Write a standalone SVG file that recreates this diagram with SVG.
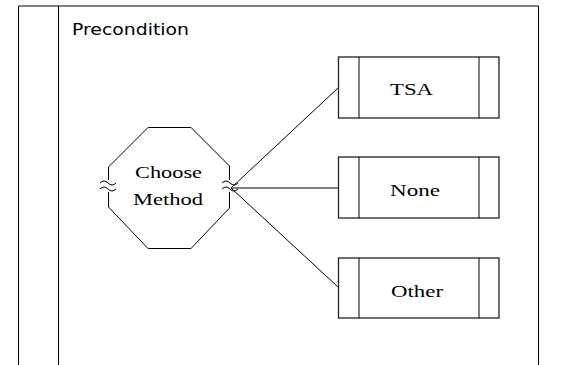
<svg xmlns="http://www.w3.org/2000/svg" width="564" height="365" viewBox="0 0 564 365">
<style>
.ln{stroke:#000;stroke-width:1;fill:none}
.box{stroke:#222;stroke-width:1.3;fill:#fff}
.lbl{font-family:"Liberation Serif",serif;font-size:16px;fill:#000}
.hdr{font-family:"DejaVu Sans","Liberation Sans",sans-serif;font-size:15px;fill:#000}
</style>
<rect width="564" height="365" fill="#fff"/>
<g id="frame">
<line class="ln" x1="18.5" y1="6" x2="538.5" y2="6" stroke-width="1.5"/>
<line class="ln" x1="18.5" y1="6" x2="18.5" y2="365" stroke-width="1.5"/>
<line class="ln" x1="58.5" y1="6" x2="58.5" y2="365" stroke-width="1.3"/>
<line class="ln" x1="538.5" y1="6" x2="538.5" y2="365" stroke-width="1.3"/>
<text class="hdr" x="72" y="35" textLength="117" lengthAdjust="spacingAndGlyphs">Precondition</text>
</g>
<g id="connectors">
<line class="ln" x1="231" y1="188" x2="338" y2="88"/>
<line class="ln" x1="231" y1="188" x2="338" y2="188"/>
<line class="ln" x1="231" y1="188" x2="338" y2="287"/>
</g>
<g id="choose">
<path class="ln" d="M108.5 180 V167 L148 127.5 H191 L229.5 166 V180"/>
<path class="ln" d="M108.5 192 V207 L148 248.5 H191 L229.5 208 V192"/>
<path class="ln" d="M100 183 q4 -4 8 0 t8 0"/>
<path class="ln" d="M100 189 q4 -4 8 0 t8 0"/>
<path class="ln" d="M222 183 q4 -4 8 0 t8 0"/>
<path class="ln" d="M222 189 q4 -4 8 0 t8 0"/>
<text class="lbl" x="135" y="178" textLength="67" lengthAdjust="spacingAndGlyphs">Choose</text>
<text class="lbl" x="133" y="205" textLength="70" lengthAdjust="spacingAndGlyphs">Method</text>
</g>
<g id="tsa">
<rect class="box" x="338.5" y="57" width="160.5" height="61"/>
<line class="ln" x1="359" y1="57" x2="359" y2="118" stroke-width="1.3"/>
<line class="ln" x1="479" y1="57" x2="479" y2="118" stroke-width="1.3"/>
<text class="lbl" x="390" y="95" textLength="43" lengthAdjust="spacingAndGlyphs">TSA</text>
</g>
<g id="none">
<rect class="box" x="338.5" y="157" width="160.5" height="61"/>
<line class="ln" x1="359" y1="157" x2="359" y2="218" stroke-width="1.3"/>
<line class="ln" x1="479" y1="157" x2="479" y2="218" stroke-width="1.3"/>
<text class="lbl" x="390" y="196" textLength="50" lengthAdjust="spacingAndGlyphs">None</text>
</g>
<g id="other">
<rect class="box" x="338.5" y="258" width="160.5" height="60"/>
<line class="ln" x1="359" y1="258" x2="359" y2="318" stroke-width="1.3"/>
<line class="ln" x1="479" y1="258" x2="479" y2="318" stroke-width="1.3"/>
<text class="lbl" x="391" y="297" textLength="52" lengthAdjust="spacingAndGlyphs">Other</text>
</g>
</svg>
